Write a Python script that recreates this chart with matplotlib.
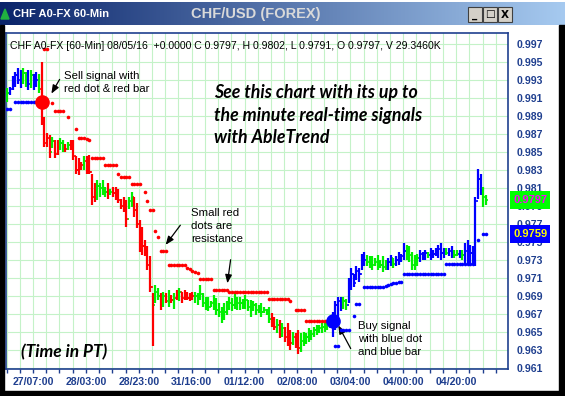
import numpy as np
import matplotlib
matplotlib.use("Agg")
import matplotlib.pyplot as plt
from matplotlib.patches import Rectangle, Polygon
from matplotlib.transforms import blended_transform_factory

# ---- price bars (60-min CHF A0-FX), one entry per bar ----
highs = [
    0.9921, 0.9922, 0.9934, 0.9939, 0.9943, 0.9941, 0.9943, 0.9939, 0.9941, 0.9941, 0.9937, 0.9939, 0.9937,
    0.9950, 0.9889, 0.9871, 0.9869, 0.9867, 0.9863, 0.9863, 0.9865, 0.9863, 0.9859, 0.9861, 0.9863, 0.9863,
    0.9845, 0.9843, 0.9839, 0.9845, 0.9845, 0.9847,
    0.9826, 0.9815, 0.9819, 0.9815, 0.9819, 0.9811, 0.9815, 0.9809, 0.9811, 0.9811, 0.9809, 0.9798, 0.9800,
    0.9797, 0.9800, 0.9806, 0.9800, 0.9793, 0.9774, 0.9767, 0.9752, 0.9745, 0.9734, 0.9693,
    0.9702, 0.9699, 0.9693, 0.9695, 0.9693, 0.9697, 0.9691, 0.9693, 0.9697, 0.9699, 0.9695, 0.9697, 0.9695,
    0.9693, 0.9695,
    0.9695, 0.9693, 0.9702, 0.9693, 0.9689, 0.9689, 0.9685, 0.9691, 0.9688, 0.9682, 0.9678, 0.9682, 0.9685,
    0.9689, 0.9688, 0.9693, 0.9689, 0.9689, 0.9687, 0.9691, 0.9686, 0.9686, 0.9684, 0.9682, 0.9680, 0.9682,
    0.9678, 0.9676, 0.9678,
    0.9671, 0.9667, 0.9665, 0.9663, 0.9660, 0.9656, 0.9660, 0.9652, 0.9650, 0.9649, 0.9652, 0.9649, 0.9650,
    0.9649, 0.9654, 0.9652, 0.9656, 0.9658, 0.9658, 0.9660, 0.9662, 0.9663, 0.9665,
    0.9672, 0.9684, 0.9689, 0.9689, 0.9689, 0.9687, 0.9710, 0.9721, 0.9715, 0.9723, 0.9721, 0.9737, 0.9739,
    0.9735, 0.9734, 0.9734, 0.9732, 0.9735, 0.9730, 0.9734, 0.9730,
    0.9732, 0.9735, 0.9732, 0.9734, 0.9739, 0.9737,
    0.9749, 0.9747, 0.9745, 0.9739, 0.9735, 0.9737,
    0.9741, 0.9739, 0.9741, 0.9739, 0.9743, 0.9741, 0.9743, 0.9747, 0.9749, 0.9743,
    0.9743, 0.9743, 0.9745, 0.9741, 0.9741, 0.9741, 0.9741, 0.9749, 0.9752, 0.9747, 0.9745,
    0.9800, 0.9831, 0.9826, 0.9811, 0.9802,
]
lows = [
    0.9906, 0.9913, 0.9919, 0.9922, 0.9926, 0.9921, 0.9926, 0.9922, 0.9919, 0.9921, 0.9919, 0.9922, 0.9915,
    0.9880, 0.9856, 0.9856, 0.9843, 0.9854, 0.9843, 0.9847, 0.9852, 0.9850, 0.9850, 0.9852, 0.9852, 0.9841,
    0.9826, 0.9824, 0.9830, 0.9830, 0.9826, 0.9826,
    0.9791, 0.9794, 0.9797, 0.9800, 0.9802, 0.9800, 0.9798, 0.9802, 0.9800, 0.9797, 0.9793, 0.9787, 0.9783,
    0.9767, 0.9787, 0.9789, 0.9778, 0.9765, 0.9739, 0.9735, 0.9734, 0.9719, 0.9695, 0.9634,
    0.9682, 0.9686, 0.9674, 0.9678, 0.9682, 0.9678, 0.9682, 0.9676, 0.9686, 0.9684, 0.9682, 0.9686, 0.9686,
    0.9684, 0.9686,
    0.9682, 0.9680, 0.9686, 0.9678, 0.9674, 0.9673, 0.9678, 0.9674, 0.9669, 0.9667, 0.9660, 0.9663, 0.9669,
    0.9674, 0.9673, 0.9676, 0.9674, 0.9674, 0.9676, 0.9676, 0.9673, 0.9667, 0.9673, 0.9669, 0.9671, 0.9667,
    0.9671, 0.9669, 0.9660,
    0.9656, 0.9652, 0.9649, 0.9643, 0.9645, 0.9639, 0.9634, 0.9630, 0.9636, 0.9632, 0.9626, 0.9628, 0.9634,
    0.9637, 0.9639, 0.9641, 0.9645, 0.9647, 0.9649, 0.9649, 0.9650, 0.9652, 0.9654,
    0.9645, 0.9652, 0.9667, 0.9673, 0.9676, 0.9674, 0.9682, 0.9697, 0.9700, 0.9708, 0.9706, 0.9719, 0.9723,
    0.9723, 0.9721, 0.9719, 0.9723, 0.9719, 0.9721, 0.9717, 0.9719,
    0.9719, 0.9723, 0.9721, 0.9723, 0.9724, 0.9728,
    0.9730, 0.9730, 0.9728, 0.9719, 0.9719, 0.9723,
    0.9728, 0.9730, 0.9730, 0.9732, 0.9730, 0.9732, 0.9734, 0.9732, 0.9730, 0.9732,
    0.9735, 0.9734, 0.9732, 0.9732, 0.9734, 0.9732, 0.9730, 0.9726, 0.9724, 0.9726, 0.9724,
    0.9723, 0.9798, 0.9802, 0.9789, 0.9791,
]
closes = [
    0.9915, 0.9920, 0.9930, 0.9935, 0.9930, 0.9935, 0.9938, 0.9932, 0.9925, 0.9935, 0.9928, 0.9930, 0.9920,
    0.9885, 0.9860, 0.9865, 0.9850, 0.9862, 0.9848, 0.9855, 0.9860, 0.9857, 0.9853, 0.9858, 0.9855, 0.9845,
    0.9830, 0.9832, 0.9835, 0.9840, 0.9832, 0.9828,
    0.9800, 0.9800, 0.9812, 0.9810, 0.9808, 0.9806, 0.9803, 0.9806, 0.9804, 0.9800, 0.9797, 0.9790, 0.9790,
    0.9775, 0.9795, 0.9800, 0.9785, 0.9770, 0.9745, 0.9745, 0.9740, 0.9725, 0.9700, 0.9680,
    0.9695, 0.9690, 0.9680, 0.9690, 0.9685, 0.9690, 0.9686, 0.9688, 0.9690, 0.9695, 0.9688, 0.9690, 0.9688,
    0.9688, 0.9690,
    0.9690, 0.9688, 0.9692, 0.9682, 0.9680, 0.9678, 0.9682, 0.9680, 0.9675, 0.9672, 0.9668, 0.9672, 0.9678,
    0.9682, 0.9680, 0.9686, 0.9682, 0.9682, 0.9680, 0.9686, 0.9678, 0.9675, 0.9680, 0.9675, 0.9676, 0.9672,
    0.9674, 0.9672, 0.9665,
    0.9660, 0.9656, 0.9658, 0.9648, 0.9654, 0.9645, 0.9640, 0.9638, 0.9645, 0.9638, 0.9632, 0.9640, 0.9645,
    0.9645, 0.9650, 0.9648, 0.9652, 0.9654, 0.9655, 0.9656, 0.9658, 0.9660, 0.9662,
    0.9665, 0.9680, 0.9685, 0.9680, 0.9684, 0.9680, 0.9705, 0.9715, 0.9705, 0.9718, 0.9715, 0.9732, 0.9730,
    0.9728, 0.9728, 0.9725, 0.9728, 0.9724, 0.9725, 0.9722, 0.9726,
    0.9728, 0.9732, 0.9726, 0.9730, 0.9735, 0.9734,
    0.9740, 0.9738, 0.9735, 0.9725, 0.9728, 0.9732,
    0.9737, 0.9735, 0.9738, 0.9735, 0.9740, 0.9737, 0.9740, 0.9742, 0.9738, 0.9738,
    0.9738, 0.9740, 0.9738, 0.9736, 0.9737, 0.9738, 0.9735, 0.9740, 0.9735, 0.9738, 0.9730,
    0.9795, 0.9820, 0.9808, 0.9800, 0.9797,
]
# B = up trend (blue), R = down trend (red), G = neutral (green)
trend = ("GBBBBBGGBGBBG"
         "RRRRGRRGGRGRRRRRGRR"
         "RRGGGGRGRRRRRRGGRRRRRRRR"
         "GGRGRGRGRGRRRRR"
         "GGGGGGGGGGGGGGGGGGGGGGGGGGGGG"
         "RRGRGRRRGRRGGGGGGGGGGGG"
         "BBBBGGBBBBBBB"
         "GGGGGGGG"
         "BBGBBB"
         "BGGGGG"
         "BBBGBBBBBB"
         "GBBGGBGBBBB"
         "BBBGG")

# resistance dots (red): runs of bars at one level
res_first = [14, 17, 18, 23, 26, 27, 30, 31, 32, 37, 42, 43, 47, 52, 53, 54, 56, 57, 58, 61,
             68, 69, 70, 71, 72, 73, 78, 84, 99, 107, 109, 113]
res_last = [15, 17, 21, 23, 26, 29, 30, 31, 36, 41, 42, 46, 50, 52, 53, 55, 56, 57, 60, 67,
            68, 69, 70, 71, 72, 77, 83, 98, 106, 107, 112, 121]
res_level = [0.9964, 0.9904, 0.9896, 0.9889, 0.9876, 0.9865, 0.9864, 0.9863, 0.9843, 0.9835,
             0.9826, 0.9822, 0.9814, 0.9806, 0.9796, 0.9786, 0.9762, 0.9755, 0.9740, 0.9725,
             0.9721, 0.9720, 0.9718, 0.9717, 0.9716, 0.9709, 0.9697, 0.9695, 0.9687, 0.9684,
             0.9674, 0.9662]
# support dots (blue)
sup_first = [0, 3, 124, 126, 131, 132, 135, 143, 144, 145, 146, 147, 148, 150, 166, 178, 180]
sup_last = [1, 11, 125, 129, 131, 133, 142, 143, 144, 145, 146, 147, 149, 165, 176, 178, 181]
sup_level = [0.9898, 0.9906, 0.9635, 0.9652, 0.9668, 0.9681, 0.9700, 0.9701, 0.9702, 0.9703,
             0.9704, 0.9705, 0.9706, 0.9715, 0.9726, 0.9752, 0.9759]

sell_bar, sell_level = 13, 0.9905
buy_bar, buy_level = 123, 0.9662

x_labels = ["27/07:00", "28/03:00", "28/23:00", "31/16:00", "01/12:00",
            "02/08:00", "03/04:00", "04/00:00", "04/20:00"]
last_close, last_support = 0.9797, 0.9759

BLUE, RED, GREEN = "#0000FF", "#FF0000", "#00F000"
colmap = {"B": BLUE, "R": RED, "G": GREEN}
AXC = "#1F3F8F"
FONT = "Liberation Sans"

W, H = 565, 396
fig = plt.figure(figsize=(W / 100, H / 100), dpi=100)
fig.patch.set_facecolor("white")


def fx(px):
    return px / W


def fy(py):
    return 1 - py / H


# window frame
for r in [(0, 25, 4, 371), (559, 25, 6, 371), (0, 391, 565, 5)]:
    fig.patches.append(Rectangle((fx(r[0]), fy(r[1] + r[3])), r[2] / W, r[3] / H,
                                 transform=fig.transFigure, color="black", zorder=0))

# title bar gradient
tb = fig.add_axes([0, fy(25), 1, 23 / H])
grad = np.linspace(0, 1, 300)[None, :, None]
c0 = np.array([10, 36, 106]) / 255
c1 = np.array([166, 202, 240]) / 255
tb.imshow(c0 + (c1 - c0) * grad, aspect="auto", extent=(0, 1, 0, 1))
tb.set_axis_off()
fig.text(fx(13), fy(14), "CHF A0-FX 60-Min", color="white", fontsize=8.0,
         fontweight="bold", family=FONT, va="center")
fig.text(fx(256), fy(14), "CHF/USD (FOREX)", color="#D9D9D9", fontsize=10.5,
         fontweight="bold", family=FONT, va="center", ha="center")
fig.patches.append(Polygon([[fx(1), fy(19)], [fx(5), fy(9)], [fx(9), fy(19)]],
                           closed=True, transform=fig.transFigure, color="#20B040", zorder=5))
for bx, glyph in [(468, "_"), (483, "\u25a1"), (498, "X")]:
    fig.patches.append(Rectangle((fx(bx), fy(22)), 14 / W, 15 / H, transform=fig.transFigure,
                                 facecolor="#D4D0C8", edgecolor="#404040", lw=0.8, zorder=5))
    fig.text(fx(bx + 7), fy(14.5), glyph, fontsize=7.5, fontweight="bold", ha="center",
             va="center", family="DejaVu Sans", zorder=6)

# main chart
ax = fig.add_axes([fx(6), fy(369), fx(508) - fx(6), fy(33) - fy(369)])
ax.set_xlim(-0.49, 189.3)
ax.set_ylim(0.960889, 0.998222)

n = len(highs)
idx = np.arange(n)
cols = [colmap[t] for t in trend]
opens = [closes[0]] + closes[:-1]
ax.vlines(idx, lows, highs, colors=cols, lw=1.6, zorder=3)
ax.hlines(opens, idx - 0.55, idx, colors=cols, lw=1.2, zorder=3)
ax.hlines(closes, idx, idx + 0.55, colors=cols, lw=1.2, zorder=3)

for a, b, lv in zip(res_first, res_last, res_level):
    xs = np.arange(a, b + 1)
    ax.plot(xs, [lv] * len(xs), ls="none", marker="o", ms=2.6, mew=0, color=RED, zorder=4)
for a, b, lv in zip(sup_first, sup_last, sup_level):
    xs = np.arange(a, b + 1)
    ax.plot(xs, [lv] * len(xs), ls="none", marker="o", ms=2.6, mew=0, color=BLUE, zorder=4)

ax.plot([sell_bar], [sell_level], "o", ms=9.5, color=RED, zorder=5)
ax.plot([buy_bar], [buy_level], "o", ms=9.5, color=BLUE, zorder=5)

# axes styling
yt = np.round(np.arange(0.961, 0.9975, 0.002), 3)
ax.set_yticks(yt)
ax.set_yticklabels([f"{v:.3f}" for v in yt])
ax.yaxis.tick_right()
xt = -0.3 + 5 * np.arange(38)
ax.set_xticks(xt)
lab = [""] * len(xt)
for k, s in enumerate(x_labels):
    lab[2 + 4 * k] = s
ax.set_xticklabels(lab)
ax.tick_params(axis="y", length=0, pad=6.5, labelsize=7.6, labelcolor=AXC)
ax.tick_params(axis="x", length=3, width=1, color=AXC, pad=2.5, labelsize=7.6, labelcolor=AXC)
for t in ax.get_xticklabels() + ax.get_yticklabels():
    t.set_fontweight("bold")
    t.set_family(FONT)
ax.grid(True, color="#C4F2C8", lw=0.8, zorder=0)
ax.set_axisbelow(True)
for sp in ax.spines.values():
    sp.set_color(AXC)
    sp.set_linewidth(1.2)

# last price / support boxes on the price scale
bt = blended_transform_factory(ax.transAxes, ax.transData)
for val, fc, tc in [(last_close, "#00FF00", "#FF00FF"), (last_support, "#0000FF", "#FFFF00")]:
    ax.add_patch(Rectangle((1.004, val - 0.001), 0.08, 0.002, transform=bt, facecolor=fc,
                           edgecolor="none", clip_on=False, zorder=6))
    ax.text(1.044, val, f"{val:.4f}", transform=bt, ha="center", va="center", color=tc,
            fontsize=8, fontweight="bold", family=FONT, zorder=7, clip_on=False)

# texts
fig.text(fx(10), fy(46), "CHF A0-FX [60-Min] 08/05/16  +0.0000 C 0.9797, H 0.9802, L 0.9791, "
         "O 0.9797, V 29.3460K", fontsize=7.6, family=FONT, va="center")
fig.text(fx(214), fy(84), "See this chart with its up to\nthe minute real-time signals\nwith AbleTrend",
         fontsize=12.8, fontweight="bold", style="italic", family="Lato", va="top", linespacing=1.4)
fig.text(fx(21), fy(352), "(Time in PT)", fontsize=12.5, fontweight="bold", style="italic",
         family="Lato", va="center")

notes = [
    ("Sell signal with\nred dot & red bar", (64, 71), (61, 77), (50, 96)),
    ("Small red\ndots are\nresistance", (191, 208), (182, 223), (164, 247)),
    ("Buy signal\nwith blue dot\nand blue bar", (358, 321), (352, 351), (337, 323)),
]
for txt, (tx, ty), p0, p1 in notes:
    fig.text(fx(tx), fy(ty), txt, fontsize=8.2, family=FONT, va="top", linespacing=1.38)
    ax.annotate("", xy=(fx(p1[0]), fy(p1[1])), xycoords="figure fraction",
                xytext=(fx(p0[0]), fy(p0[1])), textcoords="figure fraction",
                arrowprops=dict(arrowstyle="-|>,head_length=0.5,head_width=0.2", color="black", lw=0.9))
ax.annotate("", xy=(fx(227), fy(286)), xycoords="figure fraction",
            xytext=(fx(231), fy(257)), textcoords="figure fraction",
            arrowprops=dict(arrowstyle="-|>,head_length=0.5,head_width=0.2", color="black", lw=0.9))

fig.savefig("out.png", dpi=100, facecolor=fig.get_facecolor())
